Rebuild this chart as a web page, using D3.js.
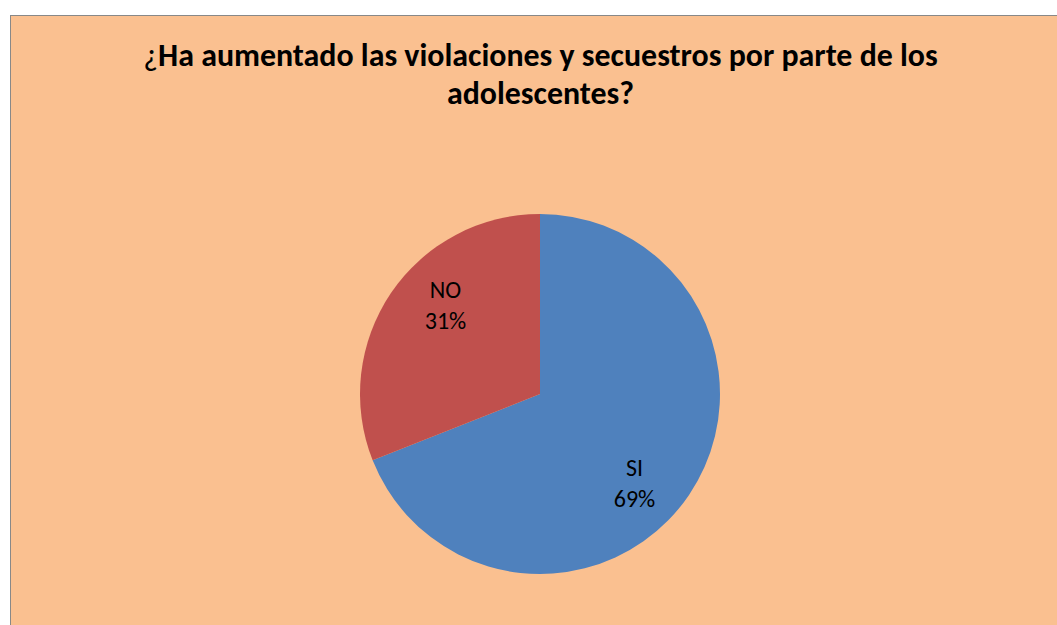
<!DOCTYPE html>
<html><head><meta charset="utf-8">
<script src="https://cdn.jsdelivr.net/npm/d3@7"></script>
<style>html,body{margin:0;padding:0;background:#fff;overflow:hidden}</style>
</head><body>
<svg id="chart" width="1057" height="625"></svg>
<script>
const titleLines = ["¿Ha aumentado las violaciones y secuestros por parte de los", "adolescentes?"];
const categories = ["SI", "NO"];
const values = [69, 31];
const colors = ["#4F81BD", "#C0504D"];

const svg = d3.select("#chart");
svg.append("rect").attr("x", 10.5).attr("y", 15.5).attr("width", 1060).attr("height", 620)
  .attr("fill", "#FAC090").attr("stroke", "#888888").attr("stroke-width", 1);

const cx = 540, cy = 394, R = 180;
const pie = d3.pie().sort(null).value(d => d)(values);
const arc = d3.arc().innerRadius(0).outerRadius(R);
const g = svg.append("g").attr("transform", `translate(${cx},${cy})`);
g.selectAll("path").data(pie).join("path").attr("d", arc).attr("fill", (d, i) => colors[i]);

const labelArc = d3.arc().innerRadius(R * 0.72).outerRadius(R * 0.72);
const rot = 9 * Math.PI / 180;
const lab = g.selectAll("text.lab").data(pie).join("text").attr("class", "lab")
  .attr("transform", d => {
    const c = labelArc.centroid({startAngle: d.startAngle + rot, endAngle: d.endAngle + rot});
    return `translate(${c[0]},${c[1]})`;
  })
  .attr("text-anchor", "middle").attr("font-family", "Carlito, Calibri, 'Open Sans', sans-serif")
  .attr("font-size", 24).attr("fill", "#000");
lab.append("tspan").attr("x", 0).attr("dy", "-0.3em").text((d, i) => categories[i]);
lab.append("tspan").attr("x", 0).attr("dy", "1.3em").text(d => d3.format(".0%")(d.data / d3.sum(values)));

const t1 = svg.append("text").attr("x", 540.5).attr("y", 66).attr("text-anchor", "middle")
  .attr("font-family", "Carlito, Calibri, 'Open Sans', sans-serif").attr("font-weight", "bold").attr("font-size", 24);
t1.append("tspan").attr("font-weight", "normal").text(titleLines[0].slice(0, 1));
t1.append("tspan").text(titleLines[0].slice(1));
const w = t1.node().getComputedTextLength();
const fs = 24 * 795 / w;
t1.attr("font-size", fs);
svg.append("text").attr("x", 540.5).attr("y", 104).attr("text-anchor", "middle")
  .attr("font-family", "Carlito, Calibri, 'Open Sans', sans-serif").attr("font-weight", "bold").attr("font-size", fs).text(titleLines[1]);
</script>
</body></html>
